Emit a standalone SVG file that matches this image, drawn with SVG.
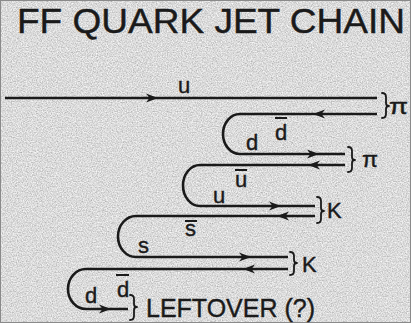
<svg xmlns="http://www.w3.org/2000/svg" width="411" height="323" viewBox="0 0 411 323">
<defs>
<filter id="tex" x="0" y="0" width="100%" height="100%">
<feTurbulence type="fractalNoise" baseFrequency="0.8" numOctaves="2" seed="7" result="n"/>
<feColorMatrix type="matrix" values="0.75 0 0 0 0.33  0.75 0 0 0 0.33  0.75 0 0 0 0.33  0 0 0 0 1"/>
</filter>
<path id="ah" d="M0,0 L-12,-4.5 L-8.5,0 L-12,4.5 Z"/>
<style>
.ln{fill:none;stroke:#1a1a1a;stroke-width:2.6;stroke-linecap:butt}
.br{fill:none;stroke:#1a1a1a;stroke-width:1.8;stroke-linecap:round;stroke-linejoin:round}
.ar{fill:#1a1a1a}
.t{font-family:"Liberation Sans",Arial,sans-serif;fill:#1a1a1a;stroke:#1a1a1a;stroke-width:0.4}
.q{font-size:22px}
.h{font-size:22px}
.bar{stroke:#1a1a1a;stroke-width:2}
</style>
</defs>
<rect x="0" y="0" width="411" height="323" fill="#b8b8b8"/>
<rect x="0" y="0" width="411" height="323" filter="url(#tex)"/>
<rect x="0.5" y="0.5" width="410" height="322" fill="none" stroke="#8a8a8a" stroke-width="1"/>

<g id="title">
<text class="t" x="17" y="33" font-size="35" stroke-width="0.9" textLength="388" lengthAdjust="spacingAndGlyphs">FF QUARK JET CHAIN</text>
</g>

<g id="connectors">
<path class="ln" d="M5,98 H377"/>
<use href="#ah" class="ar" transform="translate(158,98)"/>

<path class="ln" d="M377,114 H240 A17,20 0 0 0 240,154 H345"/>
<use href="#ah" class="ar" transform="translate(313,114) scale(-1,1)"/>
<use href="#ah" class="ar" transform="translate(319,154)"/>

<path class="ln" d="M345,165 H200 A17,20.5 0 0 0 200,206 H315"/>
<use href="#ah" class="ar" transform="translate(308,165) scale(-1,1)"/>
<use href="#ah" class="ar" transform="translate(281,206)"/>

<path class="ln" d="M315,216 H136 A18,20.5 0 0 0 136,257 H288"/>
<use href="#ah" class="ar" transform="translate(277,216) scale(-1,1)"/>
<use href="#ah" class="ar" transform="translate(251,257)"/>

<path class="ln" d="M288,269 H86 A18,20 0 0 0 86,309 H128"/>
<use href="#ah" class="ar" transform="translate(243,269) scale(-1,1)"/>
<use href="#ah" class="ar" transform="translate(111,309)"/>
</g>

<g id="quark-labels">
<text class="t q" x="178" y="93">u</text>
<text class="t q" x="246" y="150">d</text>
<text class="t q" x="275" y="140">d</text>
<line class="bar" x1="275" y1="118" x2="287" y2="118"/>
<text class="t q" x="213" y="203">u</text>
<text class="t q" x="235" y="187">u</text>
<line class="bar" x1="235" y1="170" x2="247" y2="170"/>
<text class="t q" x="138" y="253">s</text>
<text class="t q" x="185" y="236">s</text>
<line class="bar" x1="185" y1="221" x2="197" y2="221"/>
<text class="t q" x="85" y="303">d</text>
<text class="t q" x="117" y="297">d</text>
<line class="bar" x1="116" y1="275" x2="129" y2="275"/>
</g>

<g id="pi1">
<path class="br" d="M382,93 Q386,93 386,97 V103 Q386,106 389,106 Q386,106 386,109 V114 Q386,118 382,118"/>
<text class="t h" x="389" y="114" textLength="19" lengthAdjust="spacingAndGlyphs">π</text>
</g>
<g id="pi2">
<path class="br" d="M348,147 Q352,147 352,151 V157 Q352,160 355,160 Q352,160 352,163 V168 Q352,172 348,172"/>
<text class="t h" x="362" y="167" textLength="16" lengthAdjust="spacingAndGlyphs">π</text>
</g>
<g id="K1">
<path class="br" d="M317,197 Q321,197 321,201 V208 Q321,211 324,211 Q321,211 321,214 V219 Q321,223 317,223"/>
<text class="t h" x="327" y="218">K</text>
</g>
<g id="K2">
<path class="br" d="M290,252 Q294,252 294,256 V260 Q294,263 297,263 Q294,263 294,266 V271 Q294,275 290,275"/>
<text class="t h" x="302" y="272">K</text>
</g>
<g id="leftover">
<path class="br" d="M130,295 Q134,295 134,299 V304 Q134,307 137,307 Q134,307 134,310 V316 Q134,320 130,320"/>
<text class="t" x="146" y="317" font-size="26" textLength="169" lengthAdjust="spacingAndGlyphs">LEFTOVER (?)</text>
</g>
</svg>
